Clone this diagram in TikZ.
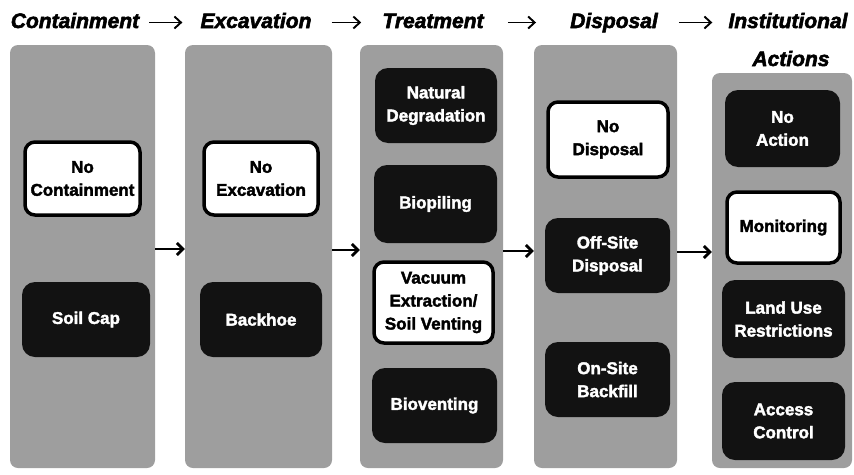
\documentclass[tikz,border=0pt]{standalone}
\usepackage{fontspec}
\setmainfont{Liberation Sans}[BoldFeatures={FakeBold=2.2}, BoldItalicFeatures={FakeBold=2.6}]
\usetikzlibrary{arrows.meta}
\definecolor{panelgray}{RGB}{158,158,158}
\definecolor{boxblack}{RGB}{18,18,18}
\tikzset{
  panel/.style={fill=panelgray, draw=none, rounded corners=8pt, inner sep=0pt},
  darkbox/.style={fill=boxblack, draw=none, rounded corners=13pt, text=white,
    align=center, inner sep=0pt,
    font=\bfseries\fontsize{17}{23}\selectfont},
  whitebox/.style={fill=white, draw=black, line width=3.5pt, rounded corners=10pt,
    text=black, align=center, inner sep=0pt,
    font=\bfseries\fontsize{17}{23}\selectfont},
  heading/.style={anchor=base, inner sep=0pt, text=black,
    font=\bfseries\itshape\fontsize{21}{36}\selectfont},
  titlearrow/.style={line width=1.9pt, -{Straight Barb[length=6.5pt,width=12pt]}},
  midarrow/.style={line width=2.8pt, -{Straight Barb[length=6pt,width=12pt]}},
}
\begin{document}
\begin{tikzpicture}[x=1pt, y=-1pt]
\useasboundingbox (0,0) rectangle (854,474);

% stage headings
\node[heading] (t1) at (75,28) {Containment};
\node[heading] (t2) at (256,28) {Excavation};
\node[heading] (t3) at (433,28) {Treatment};
\node[heading] (t4) at (614,28) {Disposal};
\node[heading] (t5) at (788,28) {Institutional};
\node[heading] (t5b) at (791,66) {Actions};

\draw[titlearrow] ([xshift=10pt,yshift=5.5pt]t1.base east) -- ([xshift=-18pt,yshift=5.5pt]t2.base west);
\draw[titlearrow] ([xshift=20pt,yshift=5.5pt]t2.base east) -- ([xshift=-21pt,yshift=5.5pt]t3.base west);
\draw[titlearrow] ([xshift=24pt,yshift=5.5pt]t3.base east) -- ([xshift=-34pt,yshift=5.5pt]t4.base west);
\draw[titlearrow] ([xshift=21pt,yshift=5.5pt]t4.base east) -- ([xshift=-16pt,yshift=5.5pt]t5.base west);

% gray columns
\node[panel, minimum width=145pt, minimum height=423pt] (p1) at (82.5,256.5) {};
\node[panel, minimum width=147pt, minimum height=423pt] (p2) at (258.5,256.5) {};
\node[panel, minimum width=143pt, minimum height=423pt] (p3) at (431.5,256.5) {};
\node[panel, minimum width=143pt, minimum height=423pt] (p4) at (605.5,256.5) {};
\node[panel, minimum width=140pt, minimum height=395pt] (p5) at (782,270.5) {};

% arrows between columns
\draw[midarrow] (p1.east |- 0,249) -- (p2.west |- 0,249);
\draw[midarrow] (p2.east |- 0,250) -- (p3.west |- 0,250);
\draw[midarrow] (p3.east |- 0,251) -- (p4.west |- 0,251);
\draw[midarrow] (p4.east |- 0,252) -- (p5.west |- 0,252);

% containment
\node[whitebox, minimum width=115pt, minimum height=73pt] (c1) at (82.5,178.5) {No\\Containment};
\node[darkbox, minimum width=128pt, minimum height=75pt] (c2) at (86,319.5) {Soil Cap};

% excavation
\node[whitebox, minimum width=114pt, minimum height=73pt] (e1) at (261,178.5) {No\\Excavation};
\node[darkbox, minimum width=122pt, minimum height=75pt] (e2) at (261,319.5) {Backhoe};

% treatment
\node[darkbox, minimum width=122pt, minimum height=75pt] (r1) at (436,105.5) {Natural\\Degradation};
\node[darkbox, minimum width=123pt, minimum height=78pt] (r2) at (435.5,204) {Biopiling};
\node[whitebox, minimum width=119pt, minimum height=81pt] (r3) at (433.5,302.5) {Vacuum\\Extraction/\\Soil Venting};
\node[darkbox, minimum width=125pt, minimum height=75pt] (r4) at (434.5,405.5) {Bioventing};

% disposal
\node[whitebox, minimum width=120pt, minimum height=75pt] (d1) at (608,139.5) {No\\Disposal};
\node[darkbox, minimum width=125pt, minimum height=75pt] (d2) at (607.5,255.5) {Off-Site\\Disposal};
\node[darkbox, minimum width=125pt, minimum height=75pt] (d3) at (607.5,379.5) {On-Site\\Backfill};

% institutional actions
\node[darkbox, minimum width=115pt, minimum height=77pt] (i1) at (782.5,128.5) {No\\Action};
\node[whitebox, minimum width=113pt, minimum height=71pt] (i2) at (783.5,227.5) {Monitoring};
\node[darkbox, minimum width=123pt, minimum height=78pt] (i3) at (783.5,319) {Land Use\\Restrictions};
\node[darkbox, minimum width=123pt, minimum height=78pt] (i4) at (783.5,421) {Access\\Control};
\end{tikzpicture}
\end{document}
